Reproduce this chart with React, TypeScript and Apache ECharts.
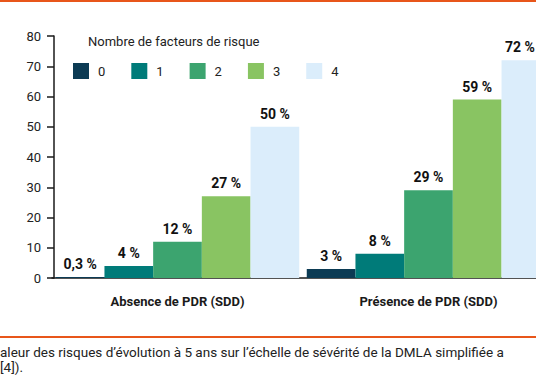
import React, { useEffect, useRef } from "react";
import * as echarts from "echarts";

const categories = ["Absence de PDR (SDD)", "Présence de PDR (SDD)"];
const riskCounts = ["0", "1", "2", "3", "4"];
const risk0 = [0.3, 3];
const risk1 = [4, 8];
const risk2 = [12, 29];
const risk3 = [27, 59];
const risk4 = [50, 72];
const seriesValues = [risk0, risk1, risk2, risk3, risk4];
const colors = ["#0c3b54", "#007b79", "#3ca46f", "#89c462", "#dbedfb"];
const yMin = 0;
const yMax = 80;
const yInterval = 10;
const legendTitle = "Nombre de facteurs de risque";
const captionLine1 = "aleur des risques d’évolution à 5 ans sur l’échelle de sévérité de la DMLA simplifiée a";
const captionLine2 = "[4]).";

const FONT = "Roboto";

export default function App() {
  const ref = useRef<HTMLDivElement>(null);
  useEffect(() => {
    if (!ref.current) return;
    const chart = echarts.init(ref.current, null, { renderer: "svg" });
    const fmt = (v: number) => String(v).replace(".", ",") + " %";
    chart.setOption({
      animation: false,
      backgroundColor: "#ffffff",
      textStyle: { fontFamily: FONT },
      title: {
        text: legendTitle,
        left: 88,
        top: 35,
        padding: 0,
        textStyle: { fontSize: 13, fontWeight: "normal", color: "#222", fontFamily: FONT },
      },
      legend: {
        data: riskCounts,
        left: 73,
        top: 63,
        padding: 0,
        itemWidth: 16,
        itemHeight: 16,
        itemGap: 26,
        icon: "rect",
        textStyle: { fontSize: 13, color: "#222", fontFamily: FONT, padding: [0, 0, 0, 4] },
      },
      grid: { left: 52, top: 36, width: 502, height: 242, containLabel: false, outerBoundsMode: "none" },
      xAxis: {
        type: "category",
        data: categories,
        axisLine: { lineStyle: { color: "#1a1a1a", width: 1.5 } },
        axisTick: { show: false },
        axisLabel: { fontSize: 13, fontWeight: "bold", color: "#1a1a1a", margin: 17, fontFamily: FONT },
      },
      yAxis: {
        type: "value",
        min: yMin,
        max: yMax,
        interval: yInterval,
        offset: -2,
        splitLine: { show: false },
        axisLine: { show: true, lineStyle: { color: "#1a1a1a", width: 1.5 } },
        axisTick: { show: true, length: 7, lineStyle: { color: "#1a1a1a", width: 1.5 } },
        axisLabel: { fontSize: 13, color: "#222", margin: 13, fontFamily: FONT },
      },
      series: seriesValues.map((vals, i) => ({
        name: riskCounts[i],
        type: "bar",
        data: vals.map((v, j) =>
          i === seriesValues.length - 1 && j === vals.length - 1
            ? { value: v, label: { offset: [-6, 0] } }
            : v
        ),
        barGap: "0%",
        barCategoryGap: "3%",
        itemStyle: { color: colors[i] },
        label: {
          show: true,
          position: "top",
          distance: 6,
          formatter: (p: any) => fmt(p.value),
          fontSize: 14,
          fontWeight: "bold",
          color: "#111",
          fontFamily: FONT,
        },
      })),
      graphic: [
        { type: "rect", shape: { x: 0, y: 0, width: 536, height: 2 }, style: { fill: "#e8561a" } },
        { type: "rect", shape: { x: 0, y: 336, width: 536, height: 2 }, style: { fill: "#e8561a" } },
        {
          type: "text",
          x: 0,
          y: 352,
          style: { text: captionLine1, fontSize: 13.5, fill: "#222", fontFamily: FONT, textVerticalAlign: "middle" },
        },
        {
          type: "text",
          x: 0,
          y: 367,
          style: { text: captionLine2, fontSize: 13.5, fill: "#222", fontFamily: FONT, textVerticalAlign: "middle" },
        },
      ],
    });
    return () => chart.dispose();
  }, []);
  return (
    <div
      ref={ref}
      style={{ position: "absolute", left: 0, top: 0, width: 536, height: 386 }}
    />
  );
}
